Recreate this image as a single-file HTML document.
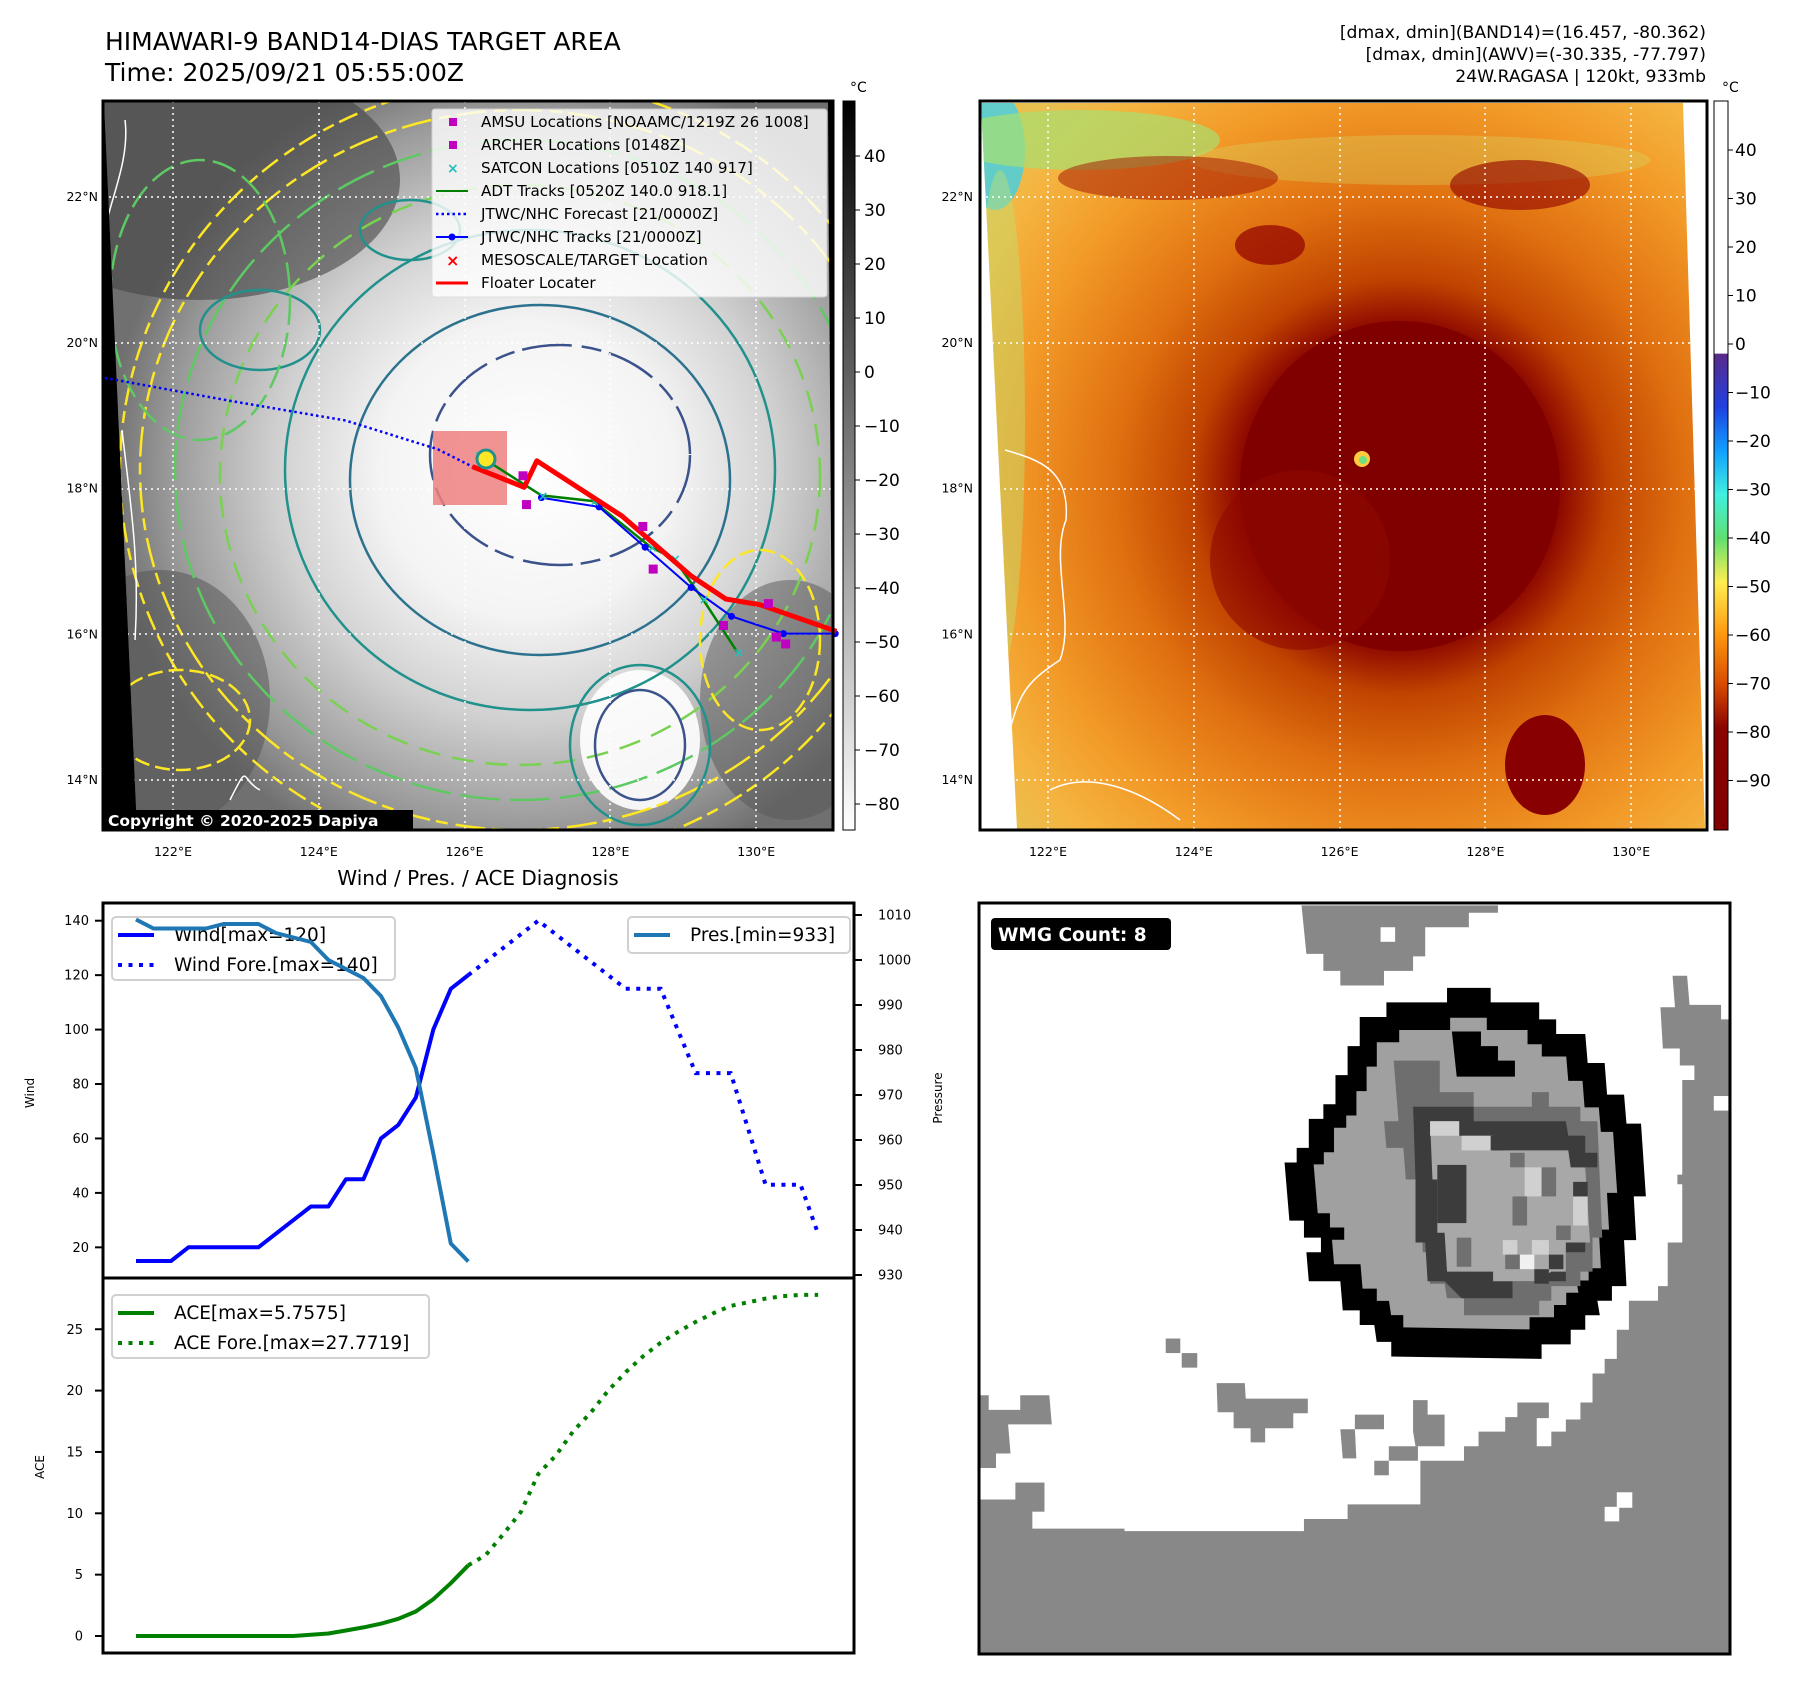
<!DOCTYPE html>
<html><head><meta charset="utf-8">
<style>
body{margin:0;background:#fff;}
svg text{font-family:"DejaVu Sans","Liberation Sans",sans-serif;}
</style></head>
<body>
<svg id="root" width="1797" height="1690" viewBox="0 0 1797 1690" xmlns="http://www.w3.org/2000/svg">
<defs>
  <radialGradient id="g1" cx="527" cy="470" r="420" gradientUnits="userSpaceOnUse">
    <stop offset="0" stop-color="#ffffff"/><stop offset="0.35" stop-color="#f4f4f4"/>
    <stop offset="0.6" stop-color="#d0d0d0"/><stop offset="0.85" stop-color="#9a9a9a"/><stop offset="1" stop-color="#707070"/>
  </radialGradient>
  <radialGradient id="g2" cx="1400" cy="486" r="520" gradientUnits="userSpaceOnUse">
    <stop offset="0" stop-color="#800000"/><stop offset="0.3" stop-color="#880200"/>
    <stop offset="0.4" stop-color="#c04400"/><stop offset="0.55" stop-color="#e07010"/>
    <stop offset="0.75" stop-color="#f29a28"/><stop offset="0.9" stop-color="#f5b440"/><stop offset="1" stop-color="#e8c050"/>
  </radialGradient>
  <linearGradient id="cb1" x1="0" y1="0" x2="0" y2="1">
    <stop offset="0" stop-color="#000"/><stop offset="1" stop-color="#fff"/>
  </linearGradient>
  <linearGradient id="cb2" x1="0" y1="0" x2="0" y2="1">
    <stop offset="0" stop-color="#ffffff"/><stop offset="0.346" stop-color="#ffffff"/>
    <stop offset="0.347" stop-color="#5a2a8a"/><stop offset="0.42" stop-color="#2040e0"/>
    <stop offset="0.48" stop-color="#10a0ff"/><stop offset="0.54" stop-color="#40f0e0"/>
    <stop offset="0.6" stop-color="#60e070"/><stop offset="0.66" stop-color="#ffee50"/>
    <stop offset="0.73" stop-color="#ff9a10"/><stop offset="0.8" stop-color="#d84c00"/>
    <stop offset="0.86" stop-color="#8a0400"/><stop offset="1" stop-color="#800000"/>
  </linearGradient>
  <clipPath id="c1"><polygon points="104,102 828,102 833,829 137,829"/></clipPath>
  <clipPath id="c2"><polygon points="981,103 1683,103 1705,829 1017,829"/></clipPath>
  <clipPath id="c3"><rect x="980" y="904" width="749" height="749"/></clipPath>
</defs>

<!-- titles -->
<text x="105" y="50" font-size="25">HIMAWARI-9 BAND14-DIAS TARGET AREA</text>
<text x="105" y="81" font-size="25">Time: 2025/09/21 05:55:00Z</text>
<g font-size="17.2" text-anchor="end">
  <text x="1706" y="38">[dmax, dmin](BAND14)=(16.457, -80.362)</text>
  <text x="1706" y="60">[dmax, dmin](AWV)=(-30.335, -77.797)</text>
  <text x="1706" y="82">24W.RAGASA | 120kt, 933mb</text>
</g>

<!-- MAP 1 -->
<g>
  <rect x="103" y="101" width="730" height="729" fill="#000"/>
  <g clip-path="url(#c1)">
    <rect x="103" y="101" width="730" height="729" fill="url(#g1)"/>
    <ellipse cx="200" cy="180" rx="200" ry="120" fill="#444" opacity="0.6"/>
    <ellipse cx="160" cy="700" rx="110" ry="130" fill="#555" opacity="0.55"/>
    <ellipse cx="790" cy="700" rx="90" ry="120" fill="#555" opacity="0.5"/>
    <ellipse cx="640" cy="740" rx="60" ry="70" fill="#fff" opacity="0.9"/>
    <g fill="none" stroke-width="2.5">
      <ellipse cx="520" cy="470" rx="380" ry="360" stroke="#fde725" stroke-dasharray="30 8 12 6"/>
      <ellipse cx="520" cy="470" rx="400" ry="390" stroke="#fde725" stroke-dasharray="12 6 20 8"/>
      <ellipse cx="520" cy="470" rx="345" ry="330" stroke="#5ec962" stroke-dasharray="40 10"/>
      <ellipse cx="520" cy="475" rx="300" ry="290" stroke="#7ad151" stroke-dasharray="22 12"/>
      <ellipse cx="530" cy="470" rx="245" ry="240" stroke="#21918c"/>
      <ellipse cx="540" cy="480" rx="190" ry="175" stroke="#2c728e"/>
      <ellipse cx="560" cy="455" rx="130" ry="110" stroke="#3b528b" stroke-dasharray="50 10 20 8"/>
      <ellipse cx="640" cy="745" rx="45" ry="55" stroke="#3b528b"/>
      <ellipse cx="640" cy="745" rx="70" ry="80" stroke="#21918c"/>
      <ellipse cx="260" cy="330" rx="60" ry="40" stroke="#21918c"/>
      <ellipse cx="410" cy="230" rx="50" ry="30" stroke="#21918c"/>
      <ellipse cx="180" cy="720" rx="70" ry="50" stroke="#fde725" stroke-dasharray="15 6"/>
      <ellipse cx="760" cy="640" rx="60" ry="90" stroke="#fde725" stroke-dasharray="15 6"/>
      <ellipse cx="200" cy="300" rx="90" ry="140" stroke="#5ec962" stroke-dasharray="25 8"/>
      <path d="M125,120 C130,160 110,200 105,230 M122,430 C130,500 140,560 135,640 M260,790 C240,780 250,760 230,800" stroke="#fff" stroke-width="1.5"/>
    </g>
    <g stroke="#fff" stroke-width="1.5" stroke-dasharray="2 4">
      <line x1="173" y1="101" x2="173" y2="830"/><line x1="319" y1="101" x2="319" y2="830"/>
      <line x1="465" y1="101" x2="465" y2="830"/><line x1="610" y1="101" x2="610" y2="830"/>
      <line x1="756" y1="101" x2="756" y2="830"/>
      <line x1="103" y1="197" x2="833" y2="197"/><line x1="103" y1="343" x2="833" y2="343"/>
      <line x1="103" y1="489" x2="833" y2="489"/><line x1="103" y1="634" x2="833" y2="634"/>
      <line x1="103" y1="780" x2="833" y2="780"/>
    </g>
  </g>
  <rect x="433" y="431" width="74" height="74" fill="#f08080" opacity="0.85"/>
  <g id="tracks"></g>
  <rect x="103" y="101" width="730" height="729" fill="none" stroke="#000" stroke-width="3"/>
  <rect x="103" y="810" width="310" height="21" fill="#000"/>
  <text x="108" y="826" font-size="15.5" font-weight="bold" fill="#fff">Copyright © 2020-2025 Dapiya</text>
  <!-- legend -->
  <g>
    <rect x="432" y="109" width="395" height="188" rx="3" fill="#fff" opacity="0.8" stroke="#ddd"/>
    <g font-size="15.2">
      <rect x="449" y="118" width="8" height="8" fill="#c000c0"/><text x="481" y="127">AMSU Locations [NOAAMC/1219Z 26 1008]</text>
      <rect x="449" y="141" width="8" height="8" fill="#c000c0"/><text x="481" y="150">ARCHER Locations [0148Z]</text>
      <text x="447" y="173" fill="#20c0c0" font-size="14" font-weight="bold">×</text><text x="481" y="173">SATCON Locations [0510Z 140 917]</text>
      <line x1="436" y1="191" x2="468" y2="191" stroke="#008000" stroke-width="2"/><text x="481" y="196">ADT Tracks [0520Z 140.0 918.1]</text>
      <line x1="436" y1="214" x2="468" y2="214" stroke="#00f" stroke-width="2.5" stroke-dasharray="2.5 3"/><text x="481" y="219">JTWC/NHC Forecast [21/0000Z]</text>
      <line x1="436" y1="237" x2="468" y2="237" stroke="#00f" stroke-width="2"/><circle cx="452" cy="237" r="3.5" fill="#00f"/><text x="481" y="242">JTWC/NHC Tracks [21/0000Z]</text>
      <text x="446" y="266" fill="#f00" font-size="16" font-weight="bold">×</text><text x="481" y="265">MESOSCALE/TARGET Location</text>
      <line x1="436" y1="283" x2="468" y2="283" stroke="#f00" stroke-width="3"/><text x="481" y="288">Floater Locater</text>
    </g>
  </g>
  <!-- colorbar 1 -->
  <rect x="843" y="101" width="12" height="729" fill="url(#cb1)" stroke="#000" stroke-width="1"/>
  <text x="850" y="92" font-size="14">°C</text>
  <g id="cb1ticks" font-size="17"></g>
</g>

<!-- MAP 2 -->
<g>
  <rect x="980" y="101" width="727" height="729" fill="#fff"/>
  <g clip-path="url(#c2)">
    <rect x="980" y="101" width="727" height="729" fill="url(#g2)"/>
    <ellipse cx="995" cy="150" rx="30" ry="60" fill="#40d0e8" opacity="0.8"/>
    <ellipse cx="1080" cy="140" rx="140" ry="30" fill="#a8e070" opacity="0.7"/>
    <ellipse cx="1000" cy="420" rx="25" ry="250" fill="#c0e070" opacity="0.45"/>
    <ellipse cx="1420" cy="160" rx="230" ry="25" fill="#d8d860" opacity="0.35"/>
    <ellipse cx="1400" cy="486" rx="160" ry="165" fill="#800000"/>
    <ellipse cx="1300" cy="560" rx="90" ry="90" fill="#900800" opacity="0.6"/>
    <ellipse cx="1520" cy="185" rx="70" ry="25" fill="#900000" opacity="0.6"/>
    <ellipse cx="1270" cy="245" rx="35" ry="20" fill="#900000" opacity="0.7"/>
    <ellipse cx="1168" cy="178" rx="110" ry="22" fill="#a01000" opacity="0.5"/>
    <ellipse cx="1545" cy="765" rx="40" ry="50" fill="#880000"/>
    <circle cx="1362" cy="459" r="8" fill="#ffcc40"/><circle cx="1363" cy="460" r="4" fill="#70e080"/>
    <path d="M1005,450 C1040,460 1070,470 1066,520 C1050,560 1075,620 1060,660 C1030,680 1020,690 1010,730 M1050,790 C1090,770 1140,790 1180,820" fill="none" stroke="#fff" stroke-width="1.5"/>
    <g stroke="#fff" stroke-width="1.5" stroke-dasharray="2 4">
      <line x1="1048" y1="101" x2="1048" y2="830"/><line x1="1194" y1="101" x2="1194" y2="830"/>
      <line x1="1340" y1="101" x2="1340" y2="830"/><line x1="1485" y1="101" x2="1485" y2="830"/>
      <line x1="1631" y1="101" x2="1631" y2="830"/>
      <line x1="980" y1="197" x2="1707" y2="197"/><line x1="980" y1="343" x2="1707" y2="343"/>
      <line x1="980" y1="489" x2="1707" y2="489"/><line x1="980" y1="634" x2="1707" y2="634"/>
      <line x1="980" y1="780" x2="1707" y2="780"/>
    </g>
  </g>
  <rect x="980" y="101" width="727" height="729" fill="none" stroke="#000" stroke-width="3"/>
  <rect x="1714" y="101" width="14" height="729" fill="url(#cb2)" stroke="#000" stroke-width="1"/>
  <text x="1722" y="92" font-size="14">°C</text>
  <g id="cb2ticks" font-size="17"></g>
</g>
<g id="mapaxes" font-size="12.5"></g>

<!-- Chart -->
<text x="478" y="885" font-size="20" text-anchor="middle">Wind / Pres. / ACE Diagnosis</text>
<g id="chart"></g>

<!-- WMG panel -->
<g>
  <rect x="979" y="903" width="751" height="751" fill="#fff"/>
  <g clip-path="url(#c3)">
    <g transform="translate(979,903) scale(0.485)" fill="#888">
      <polygon points="665,5 1070,5 1070,20 1010,20 1010,50 920,50 920,110 895,110 895,140 835,140 835,170 745,170 745,140 710,140 710,105 675,105"/>
      <polygon points="5,1230 110,1230 110,1290 300,1290 300,1295 670,1295 670,1270 760,1270 760,1240 910,1240 910,1150 1000,1150 1000,1120 1030,1120 1030,1090 1085,1090 1085,1060 1150,1060 1150,1120 1180,1120 1180,1090 1210,1090 1210,1065 1240,1065 1240,1030 1265,1030 1265,970 1290,970 1290,940 1315,940 1315,880 1340,880 1340,820 1400,820 1400,790 1420,790 1420,700 1450,700 1450,580 1440,580 1440,560 1450,560 1450,365 1475,365 1475,335 1445,335 1445,300 1410,300 1405,215 1435,215 1430,150 1460,150 1465,210 1530,210 1530,240 1560,240 1560,1560 0,1560 0,1230"/>
      <polygon points="0,1015 20,1015 20,1045 85,1045 85,1015 145,1015 150,1075 60,1075 65,1135 35,1135 35,1165 0,1165"/>
      <polygon points="490,990 548,990 550,1022 678,1022 678,1052 648,1052 648,1083 590,1083 590,1112 560,1112 560,1083 525,1083 525,1050 492,1050"/>
      <polygon points="895,1025 925,1025 925,1055 960,1055 960,1120 900,1120 895,1090"/>
      <polygon points="745,1085 775,1085 775,1055 835,1055 835,1085 775,1085 778,1145 750,1145"/>
      <polygon points="845,1120 905,1120 905,1150 845,1150"/>
      <rect x="815" y="1150" width="30" height="30"/><rect x="385" y="898" width="30" height="30"/><rect x="418" y="928" width="32" height="30"/>
      <polygon points="1110,1030 1175,1030 1175,1062 1110,1062"/>
      <rect x="75" y="1195" width="60" height="60"/>
      <rect x="1315" y="1215" width="32" height="32" fill="#fff"/><rect x="1290" y="1245" width="30" height="30" fill="#fff"/>
      <rect x="828" y="50" width="30" height="30" fill="#fff"/><rect x="1515" y="398" width="30" height="30" fill="#fff"/>
      <g id="eye">
        <polygon fill="#000" points="965,175 1055,175 1055,205 1155,205 1155,240 1190,240 1190,270 1250,270 1255,330 1290,330 1295,395 1330,395 1335,455 1365,455 1375,605 1350,605 1355,695 1330,695 1335,790 1305,790 1305,820 1275,820 1280,850 1250,850 1250,880 1220,880 1220,910 1160,910 1160,940 850,935 850,905 820,905 815,870 785,870 785,840 750,840 745,780 680,780 675,720 705,720 705,690 670,690 670,655 640,655 630,535 655,535 655,505 680,505 680,445 710,445 710,415 735,415 735,355 760,355 760,295 785,295 785,235 840,235 840,205 965,205"/>
        <polygon fill="#a0a0a0" transform="translate(1005,560) scale(0.84) translate(-1005,-560)" points="965,175 1055,175 1055,205 1155,205 1155,240 1190,240 1190,270 1250,270 1255,330 1290,330 1295,395 1330,395 1335,455 1365,455 1375,605 1350,605 1355,695 1330,695 1335,790 1305,790 1305,820 1275,820 1280,850 1250,850 1250,880 1220,880 1220,910 1160,910 1160,940 850,935 850,905 820,905 815,870 785,870 785,840 750,840 745,780 680,780 675,720 705,720 705,690 670,690 670,655 640,655 630,535 655,535 655,505 680,505 680,445 710,445 710,415 735,415 735,355 760,355 760,295 785,295 785,235 840,235 840,205 965,205"/>
        <polygon fill="#000" points="975,265 1035,265 1035,295 1070,295 1070,325 1105,325 1105,358 985,358"/>
        <polygon fill="#6e6e6e" points="855,325 950,325 950,390 1020,390 1020,420 1140,420 1140,390 1175,390 1175,420 1240,420 1240,450 1275,450 1285,690 1265,690 1265,760 1240,760 1240,790 1180,790 1180,820 1155,820 1155,850 1000,850 1000,815 965,815 960,785 930,785 925,720 915,720 910,570 880,570 875,505 840,505 835,450 865,450"/>
        <polygon fill="#3c3c3c" points="895,420 1020,420 1020,450 1210,450 1215,480 1250,480 1250,720 1210,720 1210,780 1100,780 1100,815 995,815 960,780 925,780 920,700 900,700 900,570"/>
        <polygon fill="#a8a8a8" points="930,450 990,450 990,480 1060,480 1060,510 1215,510 1220,545 1250,545 1260,700 1210,700 1210,760 1180,760 1150,780 1060,780 1060,760 965,760 960,680 945,680 945,570 935,570"/>
        <g fill="#d0d0d0"><rect x="930" y="450" width="60" height="30"/><rect x="1125" y="545" width="35" height="60"/><rect x="1080" y="695" width="30" height="30"/><rect x="1115" y="725" width="30" height="30" fill="#f0f0f0"/><rect x="1225" y="605" width="30" height="60"/><rect x="995" y="480" width="60" height="30"/><rect x="1140" y="695" width="35" height="30"/></g>
        <g fill="#707070"><rect x="1160" y="545" width="30" height="60"/><rect x="1095" y="515" width="30" height="30"/><rect x="985" y="690" width="30" height="60"/><rect x="1100" y="605" width="30" height="60"/><rect x="1190" y="665" width="30" height="30"/><rect x="1085" y="725" width="30" height="30"/></g>
        <g fill="#3c3c3c"><rect x="945" y="540" width="60" height="120"/><rect x="1055" y="480" width="30" height="30"/><rect x="1215" y="480" width="30" height="30"/><rect x="1225" y="575" width="30" height="30"/><rect x="1175" y="725" width="30" height="30"/><rect x="1145" y="755" width="30" height="30"/><rect x="1245" y="515" width="30" height="30"/></g>
      </g>
    </g>
  </g>
  <rect x="979" y="903" width="751" height="751" fill="none" stroke="#000" stroke-width="3"/>
  <rect x="991" y="918" width="180" height="32" rx="4" fill="#000"/>
  <text x="998" y="941" font-size="18.5" font-weight="bold" fill="#fff">WMG Count: 8</text>
</g>
</svg>

<script>
// ===== chart data =====
var obsIndex = [0,1,2,3,4,5,6,7,8,9,10,11,12,13,14,15,16,17,18,19];
var windObs = [15,15,15,20,20,20,20,20,25,30,35,35,45,45,60,65,75,100,115,120];
var presObs = [1009,1007,1007,1007,1007,1008,1008,1008,1006,1005,1004,1000,998,996,992,985,976,957,937,933];
var aceObs = [0,0,0,0,0,0,0,0,0,0,0.1,0.2,0.45,0.7,1.0,1.4,2.0,3.0,4.3,5.76];
var foreIndex = [19,23,28,30,32,34,36,38,39];
var windFore = [120,140,115,115,84,84,43,43,25];
var aceForeIndex = [19,20,21,22,23,24,25,26,27,28,29,30,31,32,33,34,35,36,37,38,39];
var aceFore = [5.76,6.6,8.3,10.1,13.2,14.7,16.7,18.2,20.0,21.5,22.8,23.9,24.8,25.6,26.3,26.9,27.2,27.5,27.7,27.8,27.8];
var windTicks = [20,40,60,80,100,120,140];
var presTicks = [930,940,950,960,970,980,990,1000,1010];
var aceTicks = [0,5,10,15,20,25];
var cb1Ticks = [40,30,20,10,0,-10,-20,-30,-40,-50,-60,-70,-80];
var cb2Ticks = [40,30,20,10,0,-10,-20,-30,-40,-50,-60,-70,-80,-90];
var latTicks = [22,20,18,16,14];
var lonTicks = [122,124,126,128,130];

// ===== axis functions =====
function xs(i){ return 136 + 17.49*i; }
function yW(v){ return 920.7 + (140-v)*2.722; }
function yP(p){ return 915 + (1010-p)*4.5; }
function yA(v){ return 1636 - v*12.27; }
function yCb1(v){ return 156 + (40-v)*5.4; }
function yCb2(v){ return 150 + (40-v)*4.85; }
function yLat(l){ return 197 + (22-l)*72.9; }
function xLon(l){ return 173 + (l-122)*72.9; }

var NS = "http://www.w3.org/2000/svg";
function mk(tag, parent, attrs){
  var e = document.createElementNS(NS, tag);
  for (var k in attrs) e.setAttribute(k, attrs[k]);
  parent.appendChild(e); return e;
}
function pts(idx, vals, yf){ return idx.map(function(i,k){ return xs(i).toFixed(1)+","+yf(vals[k]).toFixed(1); }).join(" "); }

var chart = document.getElementById("chart");
var f1 = mk("rect", chart, {x:103,y:903,width:751,height:375,fill:"none",stroke:"#000","stroke-width":3});


var f2 = mk("rect", chart, {x:103,y:1278,width:751,height:375,fill:"none",stroke:"#000","stroke-width":3});



windTicks.forEach(function(t){
  var y = yW(t);
  var tk = mk("line", chart, {x1:95,y1:y,x2:103,y2:y,stroke:"#000","stroke-width":2});
  
  
  var tx = mk("text", chart, {x:89,y:y+4.5,"font-size":13,"text-anchor":"end"});
  tx.textContent = t;
  
  
});
presTicks.forEach(function(t){
  var y = yP(t);
  var tk = mk("line", chart, {x1:854,y1:y,x2:862,y2:y,stroke:"#000","stroke-width":2});
  
  
  var tx = mk("text", chart, {x:878,y:y+4.5,"font-size":13});
  tx.textContent = t;
  
  
});
aceTicks.forEach(function(t){
  var y = yA(t);
  var tk = mk("line", chart, {x1:95,y1:y,x2:103,y2:y,stroke:"#000","stroke-width":2});
  
  
  var tx = mk("text", chart, {x:83,y:y+4.5,"font-size":13,"text-anchor":"end"});
  tx.textContent = t;
  
  
});
var l1 = mk("text", chart, {x:0,y:0,"font-size":12,transform:"translate(34,1093) rotate(-90)","text-anchor":"middle"});
l1.textContent = "Wind";


var l2 = mk("text", chart, {x:0,y:0,"font-size":12,transform:"translate(942,1098) rotate(-90)","text-anchor":"middle"});
l2.textContent = "Pressure";


var l3 = mk("text", chart, {x:0,y:0,"font-size":12,transform:"translate(44,1467) rotate(-90)","text-anchor":"middle"});
l3.textContent = "ACE";



var s1 = mk("polyline", chart, {points:pts(obsIndex,windObs,yW),fill:"none",stroke:"#0000ff","stroke-width":4,"stroke-linejoin":"round"});


var s2 = mk("polyline", chart, {points:pts(foreIndex,windFore,yW),fill:"none",stroke:"#0000ff","stroke-width":4,"stroke-dasharray":"4 6.5"});


var s3 = mk("polyline", chart, {points:pts(obsIndex,presObs,yP),fill:"none",stroke:"#1f77b4","stroke-width":4,"stroke-linejoin":"round"});


var s4 = mk("polyline", chart, {points:pts(obsIndex,aceObs,yA),fill:"none",stroke:"#008000","stroke-width":4,"stroke-linejoin":"round"});


var s5 = mk("polyline", chart, {points:pts(aceForeIndex,aceFore,yA),fill:"none",stroke:"#008000","stroke-width":4,"stroke-dasharray":"4 6.5"});



function legend(x,y,w,h,items,name){
  var g = mk("g", chart, {});
  
  
  mk("rect", g, {x:x,y:y,width:w,height:h,rx:4,fill:"#fff","fill-opacity":0.8,stroke:"#d0d0d0","stroke-width":2});
  items.forEach(function(it,k){
    var yy = y+18+k*30;
    var ln = mk("line", g, {x1:x+6,y1:yy,x2:x+42,y2:yy,stroke:it.c,"stroke-width":4});
    if (it.d) ln.setAttribute("stroke-dasharray","4 6.5");
    var t = mk("text", g, {x:x+62,y:yy+6,"font-size":18.5});
    t.textContent = it.t;
  });
}
legend(112,917,283,63,[{c:"#0000ff",t:"Wind[max=120]"},{c:"#0000ff",t:"Wind Fore.[max=140]",d:1}],"wind-legend");
legend(628,917,222,36,[{c:"#1f77b4",t:"Pres.[min=933]"}],"pressure-legend");
legend(112,1295,317,63,[{c:"#008000",t:"ACE[max=5.7575]"},{c:"#008000",t:"ACE Fore.[max=27.7719]",d:1}],"ace-legend");
chart.appendChild(s3);

var cb1 = document.getElementById("cb1ticks");
cb1Ticks.forEach(function(v){
  var y = yCb1(v);
  mk("line", cb1, {x1:855,y1:y,x2:860,y2:y,stroke:"#000"});
  var t = mk("text", cb1, {x:864,y:y+6});
  t.textContent = (v<0?"\u2212"+(-v):v);
  
  
});
var cb2 = document.getElementById("cb2ticks");
cb2Ticks.forEach(function(v){
  var y = yCb2(v);
  mk("line", cb2, {x1:1728,y1:y,x2:1733,y2:y,stroke:"#000"});
  var t = mk("text", cb2, {x:1735,y:y+6});
  t.textContent = (v<0?"\u2212"+(-v):v);
  
  
});

var ma = document.getElementById("mapaxes");
[0,875].forEach(function(off){
  latTicks.forEach(function(l){
    var t = mk("text", ma, {x:98+off,y:yLat(l)+4,"text-anchor":"end"});
    t.textContent = l+"\u00b0N";
    
    
  });
  lonTicks.forEach(function(l){
    var t = mk("text", ma, {x:xLon(l)+off,y:856,"text-anchor":"middle"});
    t.textContent = l+"\u00b0E";
    
    
  });
});

var S = 1.152;
var fcPts = [[91,328],[200,348],[300,365],[380,390],[410,405]];
var redPts = [[410,405],[455,423],[466,400],[540,448],[600,500],[630,520],[660,525],[726,548]];
var bluePts = [[470,432],[520,440],[560,475],[600,510],[635,535],[680,550],[725,550]];
var greenPts = [[415,395],[470,430],[515,435],[565,475],[585,485],[610,520],[640,566]];
var magPts = [[454,413],[457,438],[558,457],[567,494],[628,543],[667,524],[674,553],[682,559]];
var tr = document.getElementById("tracks");
function sp(a){ return a.map(function(p){return (p[0]*S).toFixed(1)+","+(p[1]*S).toFixed(1);}).join(" "); }
var t1 = mk("polyline", tr, {points:sp(fcPts),fill:"none",stroke:"#00f","stroke-width":2.5,"stroke-dasharray":"2.5 3"});


var t2 = mk("polyline", tr, {points:sp(greenPts),fill:"none",stroke:"#008000","stroke-width":2.5});


var t3 = mk("polyline", tr, {points:sp(bluePts),fill:"none",stroke:"#00f","stroke-width":2});


bluePts.forEach(function(p){ mk("circle", tr, {cx:p[0]*S,cy:p[1]*S,r:3.5,fill:"#00f"}); });
greenPts.forEach(function(p){ var c = mk("text", tr, {x:p[0]*S-4,y:p[1]*S+5,fill:"#20c0c0","font-size":13,"font-weight":"bold"}); c.textContent="×"; });
var t4 = mk("polyline", tr, {points:sp(redPts),fill:"none",stroke:"#f00","stroke-width":5,"stroke-linejoin":"round"});


magPts.forEach(function(p){
  var r = mk("rect", tr, {x:p[0]*S-4.5,y:p[1]*S-4.5,width:9,height:9,fill:"#c000c0"});
  
  
});
mk("circle", tr, {cx:486,cy:459,r:9,fill:"#fde725",stroke:"#21918c","stroke-width":3});
</script>
</body></html>
